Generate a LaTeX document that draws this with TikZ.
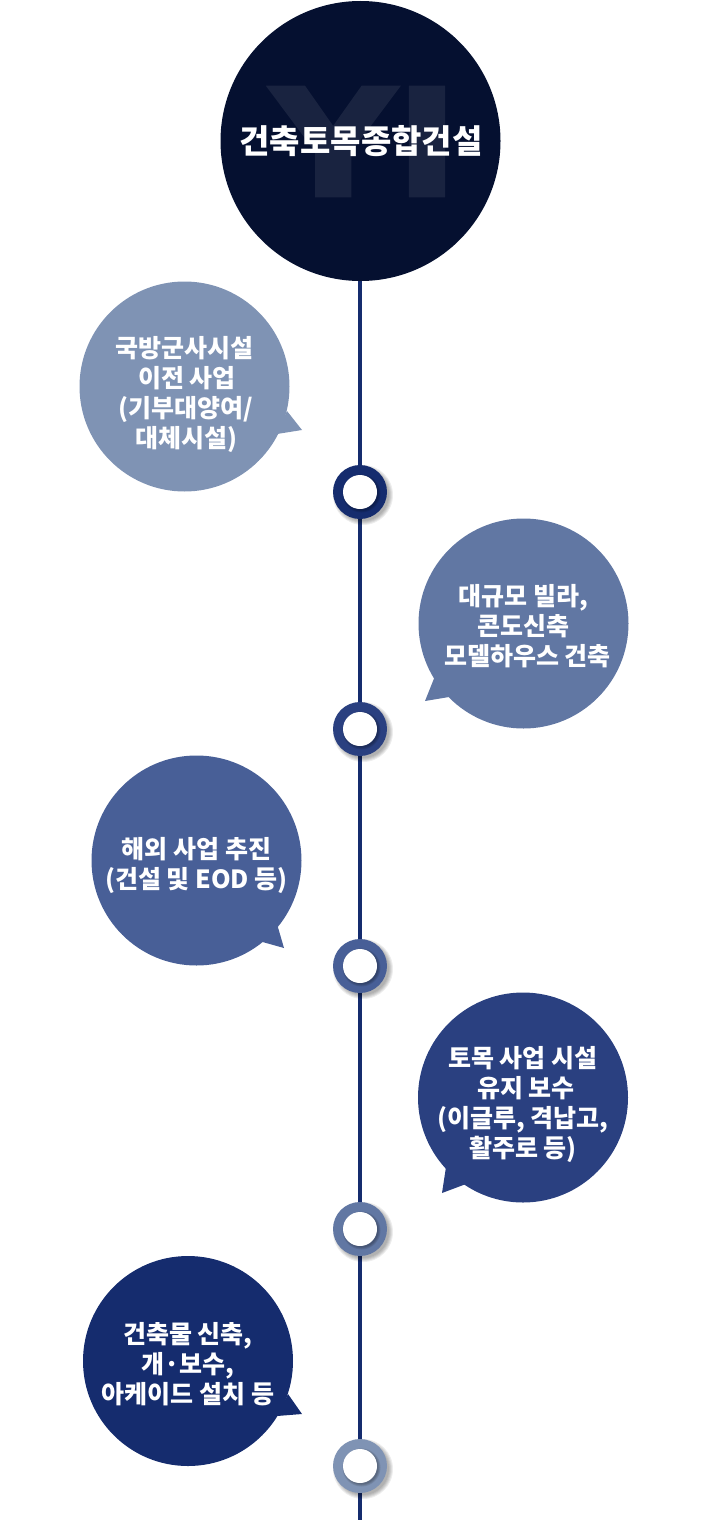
\documentclass[tikz,border=0pt]{standalone}
\usepackage{fontspec}
\usetikzlibrary{backgrounds}
\setmainfont{Noto Sans CJK KR}
\newfontfamily\wmfont[BoldFeatures={FakeBold=5}]{Liberation Sans}
\definecolor{topc}{HTML}{051030}
\definecolor{wmc}{HTML}{192340}
\definecolor{cA}{HTML}{7F93B4}
\definecolor{cB}{HTML}{6177A3}
\definecolor{cC}{HTML}{485F97}
\definecolor{cD}{HTML}{2A4080}
\definecolor{cE}{HTML}{152C6E}
\tikzset{
  bubble/.style={circle,fill=#1,minimum size=210pt,inner sep=0pt,outer sep=0pt},
  bubbletext/.style={inner sep=0pt,text=white,align=center,font=\fontsize{25}{30}\selectfont\bfseries},
  ringnode/.style={circle,fill=#1,minimum size=54pt,inner sep=0pt,outer sep=0pt},
  holenode/.style={circle,fill=white,minimum size=34pt,inner sep=0pt,outer sep=0pt},
  spine/.style={draw=cE,line width=4pt},
  shade1/.style={fill=black,opacity=0.07}
}
\newcommand{\ringshadow}[1]{%
  \foreach \rr in {30,29,28,27,26}{\fill[shade1] ([shift={(3pt,-3pt)}]#1) circle (\rr pt);}}
\newcommand{\holeshadow}[1]{%
  \foreach \rr in {19,18,17}{\fill[black,opacity=0.10] ([shift={(1.5pt,-1.5pt)}]#1) circle (\rr pt);}}
\begin{document}
\begin{tikzpicture}[x=1pt,y=-1pt]
\useasboundingbox (0,0) rectangle (710,1520);
\coordinate (bottom) at (360,1520);
% top circle
\node[circle,fill=topc,minimum size=280pt,inner sep=0pt,outer sep=0pt] (top) at (360.5,141) {};
\node[text=wmc,inner sep=0pt,anchor=center] (wm) at (362,141.5) {\resizebox{182pt}{104pt}{\wmfont\bfseries Y\kern0.03em I}};
\node[text=white,inner sep=0pt,font=\fontsize{33}{38}\selectfont\bfseries] (title) at (361,141) {건축토목종합건설};
% rings
\node[ringnode=cE] (r1) at (360,492) {};
\node[ringnode=cD] (r2) at (360,729) {};
\node[ringnode=cC] (r3) at (360,966) {};
\node[ringnode=cB] (r4) at (360,1229) {};
\node[ringnode=cA] (r5) at (360,1466) {};
\foreach \n in {r1,r2,r3,r4,r5}{\holeshadow{\n}}
\node[holenode] (h1) at (r1) {};
\node[holenode] (h2) at (r2) {};
\node[holenode] (h3) at (r3) {};
\node[holenode] (h4) at (r4) {};
\node[holenode] (h5) at (r5) {};
% connectors and ring shadows behind
\begin{scope}[on background layer]
\draw[spine] (top.south -| r1) -- (r1);
\draw[spine] (r1) -- (r2);
\draw[spine] (r2) -- (r3);
\draw[spine] (r3) -- (r4);
\draw[spine] (r4) -- (r5);
\draw[spine] (r5) -- (bottom);
\foreach \n in {r1,r2,r3,r4,r5}{\ringshadow{\n}}
\end{scope}
% bubbles
\fill[cA] (287,411) -- (302,430) -- (277,434) -- cycle;
\node[bubble=cA] (b1) at (184.5,386.5) {};
\node[bubbletext,yshift=-8pt] (t1) at (b1) {국방군사시설\\\hspace*{5pt}이전 사업\\\hspace*{3pt}(기부대양여/\\\hspace*{3pt}대체시설)};
\fill[cB] (435,676) -- (425,701) -- (449,697) -- cycle;
\node[bubble=cB] (b2) at (523.5,623.5) {};
\node[bubbletext,yshift=-3pt] (t2) at (b2) {대규모 빌라,\\콘도신축\\\hspace*{8pt}모델하우스 건축};
\fill[cC] (277,924) -- (284,948) -- (259,941) -- cycle;
\node[bubble=cC] (b3) at (196.5,860.5) {};
\node[bubbletext,yshift=-5pt] (t3) at (b3) {해외 사업 추진\\(건설 및 EOD 등)};
\fill[cD] (446,1167) -- (442,1193) -- (466,1184) -- cycle;
\node[bubble=cD] (b4) at (523,1097.5) {};
\node[bubbletext,yshift=-6.5pt] (t4) at (b4) {토목 사업 시설\\\hspace*{6pt}유지 보수\\(이글루, 격납고,\\활주로 등)};
\fill[cE] (288,1394) -- (302,1414) -- (277,1416) -- cycle;
\node[bubble=cE] (b5) at (188,1361) {};
\node[bubbletext,yshift=-3pt] (t5) at (b5) {건축물 신축,\\개·보수,\\아케이드 설치 등};
\end{tikzpicture}
\end{document}
